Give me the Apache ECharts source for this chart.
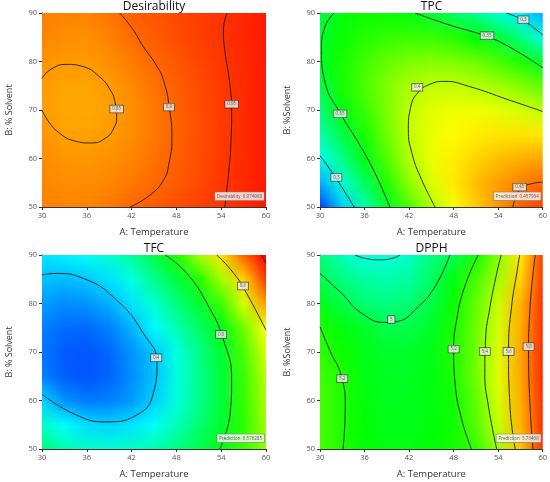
<!DOCTYPE html>
<html>
<head>
<meta charset="utf-8">
<script src="https://cdn.jsdelivr.net/npm/echarts@6/dist/echarts.min.js"></script>
<style>
  html, body { margin: 0; padding: 0; background: #fff; }
  #chart { width: 550px; height: 482px; }
</style>
</head>
<body>
<div id="chart"></div>
<script>
// factor levels of the read-off grid (A: Temperature, B: % Solvent)
const xNodes = [30, 33, 36, 39, 42, 45, 48, 51, 54, 57, 60];
const yNodes = [50, 55, 60, 65, 70, 75, 80, 85, 90];

// surface values read from the colour field, one row per yNode (bottom to top)
const desirabilityGrid = [
  [0.873, 0.870, 0.872, 0.882, 0.900, 0.912, 0.925, 0.937, 0.948, 0.962, 0.976],
  [0.868, 0.862, 0.862, 0.868, 0.882, 0.897, 0.912, 0.928, 0.946, 0.960, 0.975],
  [0.862, 0.855, 0.853, 0.858, 0.870, 0.888, 0.907, 0.925, 0.944, 0.958, 0.975],
  [0.855, 0.843, 0.842, 0.848, 0.862, 0.883, 0.904, 0.924, 0.943, 0.958, 0.975],
  [0.848, 0.836, 0.834, 0.843, 0.860, 0.882, 0.904, 0.924, 0.943, 0.958, 0.975],
  [0.848, 0.840, 0.840, 0.848, 0.865, 0.888, 0.908, 0.927, 0.944, 0.958, 0.975],
  [0.855, 0.850, 0.850, 0.860, 0.878, 0.897, 0.915, 0.932, 0.946, 0.960, 0.975],
  [0.870, 0.862, 0.860, 0.872, 0.895, 0.910, 0.925, 0.938, 0.950, 0.962, 0.976],
  [0.875, 0.870, 0.872, 0.885, 0.905, 0.917, 0.930, 0.940, 0.951, 0.963, 0.976]
];
const tpcGrid = [
  [0.250, 0.283, 0.315, 0.346, 0.372, 0.396, 0.413, 0.427, 0.440, 0.453, 0.460],
  [0.275, 0.305, 0.333, 0.362, 0.388, 0.407, 0.420, 0.430, 0.438, 0.445, 0.451],
  [0.298, 0.324, 0.350, 0.374, 0.397, 0.410, 0.419, 0.425, 0.430, 0.434, 0.436],
  [0.315, 0.338, 0.360, 0.381, 0.400, 0.410, 0.416, 0.419, 0.421, 0.421, 0.420],
  [0.328, 0.352, 0.368, 0.384, 0.400, 0.408, 0.411, 0.411, 0.409, 0.405, 0.400],
  [0.338, 0.360, 0.373, 0.385, 0.395, 0.400, 0.401, 0.398, 0.393, 0.386, 0.378],
  [0.348, 0.360, 0.370, 0.378, 0.384, 0.386, 0.384, 0.380, 0.372, 0.362, 0.345],
  [0.345, 0.357, 0.363, 0.367, 0.369, 0.368, 0.364, 0.355, 0.343, 0.325, 0.302],
  [0.340, 0.353, 0.358, 0.357, 0.352, 0.345, 0.333, 0.320, 0.306, 0.292, 0.275]
];
const tfcGrid = [
  [0.470, 0.450, 0.440, 0.437, 0.440, 0.450, 0.465, 0.483, 0.502, 0.530, 0.560],
  [0.440, 0.420, 0.408, 0.405, 0.410, 0.422, 0.445, 0.470, 0.494, 0.525, 0.565],
  [0.405, 0.382, 0.373, 0.375, 0.385, 0.403, 0.432, 0.460, 0.490, 0.528, 0.570],
  [0.375, 0.363, 0.360, 0.365, 0.380, 0.398, 0.430, 0.460, 0.490, 0.530, 0.575],
  [0.372, 0.362, 0.360, 0.366, 0.382, 0.400, 0.430, 0.462, 0.493, 0.535, 0.585],
  [0.375, 0.368, 0.367, 0.375, 0.393, 0.418, 0.446, 0.475, 0.503, 0.548, 0.600],
  [0.385, 0.380, 0.382, 0.392, 0.410, 0.435, 0.465, 0.493, 0.530, 0.585, 0.635],
  [0.398, 0.396, 0.400, 0.410, 0.430, 0.460, 0.488, 0.520, 0.568, 0.615, 0.670],
  [0.410, 0.415, 0.423, 0.437, 0.455, 0.485, 0.518, 0.565, 0.610, 0.655, 0.710]
];
const dpphGrid = [
  [5.27, 5.20, 5.15, 5.13, 5.13, 5.15, 5.18, 5.24, 5.41, 5.66, 5.90],
  [5.27, 5.20, 5.15, 5.12, 5.12, 5.14, 5.18, 5.29, 5.47, 5.69, 5.90],
  [5.27, 5.20, 5.14, 5.11, 5.11, 5.13, 5.18, 5.31, 5.50, 5.70, 5.90],
  [5.26, 5.20, 5.13, 5.10, 5.10, 5.13, 5.195, 5.34, 5.52, 5.71, 5.91],
  [5.23, 5.17, 5.12, 5.09, 5.09, 5.12, 5.20, 5.34, 5.51, 5.71, 5.91],
  [5.20, 5.14, 5.10, 5.03, 5.04, 5.09, 5.19, 5.33, 5.50, 5.70, 5.90],
  [5.12, 5.05, 4.97, 4.95, 4.97, 5.05, 5.17, 5.31, 5.48, 5.69, 5.90],
  [5.03, 4.95, 4.90, 4.88, 4.90, 5.00, 5.13, 5.27, 5.42, 5.64, 5.88],
  [4.97, 4.86, 4.79, 4.79, 4.84, 4.95, 5.02, 5.18, 5.37, 5.60, 5.88]
];

// contour lines, [A, B]
const desirabilityLines = [
  [[30, 76.5], [31.2, 78.4], [33.3, 79.4], [35.6, 78.9], [37.6, 77], [39, 74.5], [39.8, 71.5], [40, 68.5], [39.6, 66.2], [38.6, 64.3], [36.6, 63.2], [34.4, 63.6], [32.2, 65.4], [30.8, 67.8], [30, 70]],
  [[40.4, 90], [42, 87], [43.6, 83], [45.2, 79.5], [46.3, 76], [47.1, 70], [47.4, 64], [47, 59], [46.3, 55.6], [44.5, 52.5], [41.8, 50]],
  [[54.8, 90], [54.3, 86.5], [54.5, 82], [55.1, 76], [55.4, 70], [55.3, 63], [55, 57], [54.7, 53], [54.5, 50]]
];
const tpcLines = [
  [[30, 60.6], [32, 56.3], [34.6, 50]],
  [[31.9, 90], [30.7, 87.3], [30.2, 82.4], [30.7, 75.6], [32.7, 69.4], [35.2, 63.2], [37.4, 57], [39.4, 50]],
  [[42.8, 90], [47.3, 87.6], [52.2, 85.3], [55.4, 83.1], [60, 78.7]],
  [[55.1, 90], [57.2, 88.6], [60, 85.5]],
  [[45.5, 50], [43.7, 55.6], [42.4, 61], [41.9, 66], [42.2, 70.5], [43.2, 73.6], [44.8, 75.3], [46.8, 75.9], [50, 74.9], [55.4, 72.1], [60, 69.7]],
  [[56, 50], [56.9, 53.6], [58.5, 54.8], [60, 55.1]]
];
const tfcLines = [
  [[30, 85.9], [31.9, 86.2], [35.5, 85.2], [40, 80.7], [43.6, 73.8], [45.4, 67.7], [44.9, 61.5], [43.1, 57.4], [38.6, 55.6], [34.6, 57], [30, 61.3]],
  [[46.5, 90], [49.4, 86.2], [52.1, 80], [54.3, 72.5], [55.4, 64.2], [55.2, 57.4], [53.8, 50]],
  [[53.4, 90], [55.7, 86.2], [57.4, 82.1], [60, 74.5]],
  [[59.4, 90], [60, 88.3]]
];
const dpphLines = [
  [[34.7, 90], [36.1, 89.3], [37.9, 89], [39.7, 89.3], [40.8, 90]],
  [[30, 86.2], [32.9, 82.1], [35.6, 78], [38.8, 76.1], [40.4, 76.3], [43.2, 79.3], [45.5, 83.5], [47.5, 90]],
  [[30, 75.2], [31.3, 70.4], [32.9, 64.9], [33.4, 58.7], [33.1, 50]],
  [[51.3, 90], [49.5, 83.5], [48.4, 76.6], [48, 70.4], [48.2, 63.5], [49.1, 56], [50.4, 50]],
  [[54.4, 90], [53.8, 86.2], [52.9, 79.3], [52.3, 72.5], [52.2, 65.6], [52.7, 58.7], [53.8, 50]],
  [[56.9, 90], [56.5, 86.2], [55.8, 79.3], [55.4, 70.4], [55.6, 58.7], [56.3, 50]],
  [[59, 90], [58.7, 86.2], [58.3, 79.3], [58.1, 70.4], [58.3, 58.7], [58.7, 50]]
];

// contour level tags [A, B, text]
const desirabilityTags = [[40, 70.2, '0.85'], [47, 70.6, '0.9'], [55.4, 71.2, '0.95']];
const tpcTags = [[32.7, 69.2, '0.35'], [32.2, 56.1, '0.3'], [43.1, 74.7, '0.4'], [52.5, 85.3, '0.35'], [57.4, 88.6, '0.3'], [56.9, 54.1, '0.45']];
const tfcTags = [[45.3, 68.8, '0.4'], [54, 73.6, '0.5'], [56.9, 83.6, '0.6']];
const dpphTags = [[33, 64.5, '5.2'], [39.6, 76.7, '5'], [48, 70.6, '5.2'], [52.2, 70.1, '5.4'], [55.4, 70.1, '5.6'], [58.1, 71.1, '5.8']];

// flag boxes in the lower right corner
const flagTexts = ['Desirability  0.974908', 'Prediction  0.457934', 'Prediction  0.576285', 'Prediction  5.76468'];
const titles = ['Desirability', 'TPC', 'TFC', 'DPPH'];
const yNames = ['B: % Solvent', 'B: %Solvent', 'B: % Solvent', 'B: %Solvent'];
const colorRanges = [[0, 1], [0.235, 0.475], [0.33, 0.69], [4.33, 5.98]];

const panels = [
  { grid: desirabilityGrid, lines: desirabilityLines, tags: desirabilityTags },
  { grid: tpcGrid, lines: tpcLines, tags: tpcTags },
  { grid: tfcGrid, lines: tfcLines, tags: tfcTags },
  { grid: dpphGrid, lines: dpphLines, tags: dpphTags }
];

const boxes = [
  { left: 42, top: 13, width: 224, height: 194 },
  { left: 320, top: 13, width: 223, height: 194 },
  { left: 42, top: 255, width: 224, height: 194 },
  { left: 320, top: 255, width: 223, height: 194 }
];

// blue - cyan - green - yellow - red, like the Design-Expert palette
const rampStops = [[0, [0, 0, 255]], [0.25, [0, 255, 255]], [0.5, [0, 255, 0]], [0.75, [255, 255, 0]], [1, [255, 0, 0]]];
function ramp(t) {
  t = Math.max(0, Math.min(1, t));
  for (let i = 1; i < rampStops.length; i++) {
    if (t <= rampStops[i][0]) {
      const a = rampStops[i - 1], b = rampStops[i];
      const f = (t - a[0]) / (b[0] - a[0]);
      return a[1].map((c, k) => c + (b[1][k] - c) * f);
    }
  }
  return rampStops[rampStops.length - 1][1];
}
function rgb(c) {
  return 'rgb(' + c.map(v => Math.round(v)).join(',') + ')';
}

const fontFamily = '"Open Sans", "DejaVu Sans", sans-serif';
const grids = [], xAxes = [], yAxes = [], series = [], titleList = [];

panels.forEach((p, i) => {
  const b = boxes[i];
  grids.push({ left: b.left, top: b.top, width: b.width, height: b.height, containLabel: false });
  titleList.push({
    text: titles[i], left: b.left + b.width / 2, top: b.top - 12, textAlign: 'center', padding: 0,
    textStyle: { fontSize: 12, fontWeight: 'normal', color: '#111', fontFamily: fontFamily }
  });
  xAxes.push({
    gridIndex: i, type: 'value', min: 30, max: 60, interval: 6,
    name: 'A: Temperature', nameLocation: 'middle', nameGap: 20,
    nameTextStyle: { fontSize: 9.5, color: '#333', fontFamily: fontFamily },
    axisLine: { lineStyle: { color: '#333', width: 1 } },
    axisTick: { length: 3, lineStyle: { color: '#333' } },
    axisLabel: { fontSize: 7.5, color: '#555', margin: 5, fontFamily: fontFamily },
    splitLine: { show: false }
  });
  yAxes.push({
    gridIndex: i, type: 'value', min: 50, max: 90, interval: 10,
    name: yNames[i], nameLocation: 'middle', nameGap: 28,
    nameTextStyle: { fontSize: 9, color: '#333', fontFamily: fontFamily },
    axisLine: { lineStyle: { color: '#333', width: 1 } },
    axisTick: { length: 3, lineStyle: { color: '#333' } },
    axisLabel: { fontSize: 7.5, color: '#555', margin: 5, fontFamily: fontFamily },
    splitLine: { show: false }
  });

  const range = colorRanges[i];
  const rowColors = p.grid.map(row => row.map(v => ramp((v - range[0]) / (range[1] - range[0]))));

  // colour field: one item per pair of neighbouring rows, painted as thin gradient strips
  series.push({
    type: 'custom', xAxisIndex: i, yAxisIndex: i, clip: true, silent: true, z: 1,
    data: yNodes.slice(0, -1).map((y, j) => [xNodes[0], y, j]),
    renderItem: (params, api) => {
      const j = api.value(2);
      const steps = 10;
      const children = [];
      for (let s = 0; s < steps; s++) {
        const y0 = yNodes[j] + (yNodes[j + 1] - yNodes[j]) * s / steps;
        const y1 = yNodes[j] + (yNodes[j + 1] - yNodes[j]) * (s + 1) / steps;
        const w = (s + 0.5) / steps;
        const p0 = api.coord([xNodes[0], y0]);
        const p1 = api.coord([xNodes[xNodes.length - 1], y1]);
        const stops = xNodes.map((x, k) => ({
          offset: k / (xNodes.length - 1),
          color: rgb(rowColors[j][k].map((c, m) => c + (rowColors[j + 1][k][m] - c) * w))
        }));
        children.push({
          type: 'rect',
          shape: { x: p0[0], y: p1[1] - 0.4, width: p1[0] - p0[0], height: p0[1] - p1[1] + 0.8 },
          style: { fill: new echarts.graphic.LinearGradient(0, 0, 1, 0, stops) }
        });
      }
      return { type: 'group', children: children };
    }
  });

  p.lines.forEach(line => {
    series.push({
      type: 'line', xAxisIndex: i, yAxisIndex: i, data: line, smooth: 0.5,
      showSymbol: false, symbol: 'none', silent: true, z: 3,
      lineStyle: { color: '#1b1b1b', width: 0.9 }
    });
  });

  series.push({
    type: 'scatter', xAxisIndex: i, yAxisIndex: i, data: p.tags, symbolSize: 1, z: 5,
    itemStyle: { color: 'rgba(0,0,0,0)' }, silent: true,
    label: {
      show: true, position: 'inside', formatter: d => d.value[2],
      fontSize: 4.5, color: '#333', backgroundColor: '#f2f2f2',
      borderColor: '#333', borderWidth: 0.7, padding: [1, 2], fontFamily: fontFamily
    }
  });

  series.push({
    type: 'scatter', xAxisIndex: i, yAxisIndex: i, data: [[59.8, 52.2, flagTexts[i]]], symbolSize: 1, z: 6,
    itemStyle: { color: 'rgba(0,0,0,0)' }, silent: true,
    label: {
      show: true, position: 'left', distance: 0, formatter: d => d.value[2],
      fontSize: 4.5, color: '#333', backgroundColor: '#fafafa',
      borderColor: '#777', borderWidth: 0.6, padding: [1.5, 2], fontFamily: fontFamily
    }
  });
});

const chart = echarts.init(document.getElementById('chart'));
chart.setOption({
  animation: false,
  backgroundColor: '#fff',
  title: titleList,
  grid: grids,
  xAxis: xAxes,
  yAxis: yAxes,
  series: series
});
</script>
</body>
</html>
